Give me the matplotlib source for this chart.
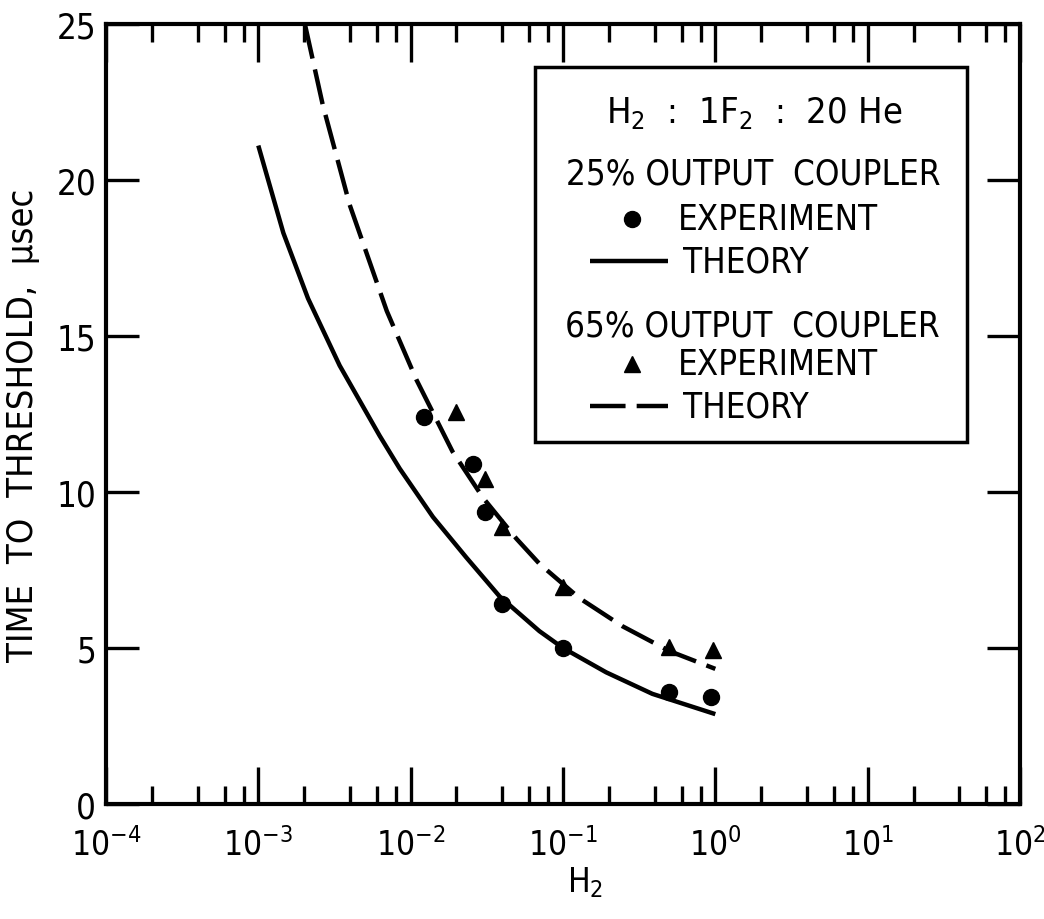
import matplotlib
matplotlib.use('Agg')
import matplotlib.pyplot as plt
import matplotlib.font_manager as fm
from matplotlib.ticker import FixedLocator, LogLocator, NullFormatter
from matplotlib.lines import Line2D
from matplotlib.patches import Rectangle

# narrow lettering if one is installed, else Roboto
family = 'Roboto'
stretch = 'normal'
for f in fm.fontManager.ttflist:
    if f.style == 'normal' and f.weight in (400, 'normal', 'regular', 'book') and \
            (f.stretch in ('condensed', 'semi-condensed') or 'Narrow' in f.name):
        family = f.name
        stretch = f.stretch
        break

plt.rcParams['font.family'] = [family, 'DejaVu Sans']
plt.rcParams['font.stretch'] = stretch
plt.rcParams['mathtext.fontset'] = 'custom'
plt.rcParams['mathtext.rm'] = family + ':stretch=' + str(stretch)
plt.rcParams['mathtext.it'] = family + ':stretch=' + str(stretch)
plt.rcParams['mathtext.default'] = 'regular'

# 25% output coupler, theory (solid)
theory25_x = [1.0e-3, 1.46e-3, 2.12e-3, 3.42e-3, 6.26e-3, 8.47e-3, 1.4e-2,
              2.32e-2, 3.84e-2, 7.0e-2, 1.0e-1, 1.92e-1, 3.86e-1, 1.0]
theory25_y = [21.1, 18.3, 16.2, 14.05, 11.8, 10.75, 9.2,
              7.9, 6.65, 5.54, 5.0, 4.22, 3.53, 2.88]

# 65% output coupler, theory (dashed)
theory65_x = [2.02e-3, 2.65e-3, 3.98e-3, 6.97e-3, 1.09e-2, 1.88e-2, 3.0e-2,
              4.95e-2, 7.0e-2, 1.28e-1, 2.45e-1, 5.0e-1, 1.0]
theory65_y = [25.0, 22.4, 19.2, 15.8, 13.6, 11.3, 9.8,
              8.5, 7.7, 6.6, 5.7, 4.9, 4.33]

# experiment points
exp25_x = [1.23e-2, 2.55e-2, 3.06e-2, 3.95e-2, 1.0e-1, 0.5, 0.94]
exp25_y = [12.4, 10.9, 9.36, 6.41, 5.0, 3.59, 3.43]
exp65_x = [2.0e-2, 3.06e-2, 3.95e-2, 1.0e-1, 0.5, 0.97]
exp65_y = [12.55, 10.4, 8.88, 6.95, 5.03, 4.94]

x_ticks = [1e-4, 1e-3, 1e-2, 1e-1, 1e0, 1e1, 1e2]
x_tick_labels = ['$10^{-4}$', '$10^{-3}$', '$10^{-2}$', '$10^{-1}$',
                 '$10^{0}$', '$10^{1}$', '$10^{2}$']
y_ticks = [0, 5, 10, 15, 20, 25]

fig = plt.figure(figsize=(10.44, 9.2), dpi=100)
ax = fig.add_axes([0.1015, 0.125, 0.8755, 0.848])

lw = 3.2
ax.plot(theory25_x, theory25_y, color='black', lw=lw, solid_capstyle='butt',
        solid_joinstyle='round')
dashed, = ax.plot(theory65_x, theory65_y, color='black', lw=lw, dash_capstyle='butt')
dashed.set_dashes([8, 2.5])
ax.plot(exp25_x, exp25_y, 'o', color='black', ms=11.5, clip_on=False)
ax.plot(exp65_x, exp65_y, '^', color='black', ms=12, clip_on=False)

ax.set_xscale('log')
ax.set_xlim(1e-4, 1e2)
ax.set_ylim(0, 25)

ax.xaxis.set_major_locator(FixedLocator(x_ticks))
ax.xaxis.set_minor_locator(LogLocator(base=10, subs=[2, 4, 6, 8]))
ax.xaxis.set_minor_formatter(NullFormatter())
ax.set_xticks(x_ticks)
ax.set_xticklabels(x_tick_labels)
ax.set_yticks(y_ticks)

for s in ax.spines.values():
    s.set_linewidth(3)

ax.tick_params(axis='x', which='major', direction='in', length=27, width=2.4,
               top=True, labelsize=24, pad=17)
ax.tick_params(axis='x', which='minor', direction='in', length=13, width=2.4,
               top=True)
ax.tick_params(axis='y', which='major', direction='in', length=24, width=2.4,
               right=True, labelsize=25, pad=7)

ax.set_xlabel('H$_2$', fontsize=24)
ax.xaxis.set_label_coords(0.524, -0.077)
ax.set_ylabel('TIME  TO  THRESHOLD,  \u03bcsec', fontsize=26)
ax.yaxis.set_label_coords(-0.072, 0.487)

# legend box drawn by hand
tr = ax.transAxes
ax.add_patch(Rectangle((0.469, 0.464), 0.473, 0.481, transform=tr,
                       fill=False, lw=2.5, color='black', zorder=5))
fs = 25
ax.text(0.709, 0.887, 'H$_2$  :  1F$_2$  :  20 He', transform=tr, fontsize=26,
        ha='center', va='center')
ax.text(0.708, 0.808, '25% OUTPUT  COUPLER', transform=tr, fontsize=fs,
        ha='center', va='center')
ax.add_line(Line2D([0.575], [0.75], transform=tr, marker='o', ms=11.5, color='black'))
ax.text(0.626, 0.75, 'EXPERIMENT', transform=tr, fontsize=fs, ha='left', va='center')
ax.add_line(Line2D([0.530, 0.615], [0.696, 0.696], transform=tr, lw=lw,
                   color='black', solid_capstyle='butt'))
ax.text(0.631, 0.696, 'THEORY', transform=tr, fontsize=fs, ha='left', va='center')
ax.text(0.707, 0.613, '65% OUTPUT  COUPLER', transform=tr, fontsize=fs,
        ha='center', va='center')
ax.add_line(Line2D([0.575], [0.564], transform=tr, marker='^', ms=12, color='black'))
ax.text(0.626, 0.564, 'EXPERIMENT', transform=tr, fontsize=fs, ha='left', va='center')
leg_dash = Line2D([0.530, 0.615], [0.510, 0.510], transform=tr, lw=lw,
                  color='black', dash_capstyle='butt')
leg_dash.set_dashes([8, 2.5])
ax.add_line(leg_dash)
ax.text(0.631, 0.510, 'THEORY', transform=tr, fontsize=fs, ha='left', va='center')

fig.savefig('out.png', dpi=100)
